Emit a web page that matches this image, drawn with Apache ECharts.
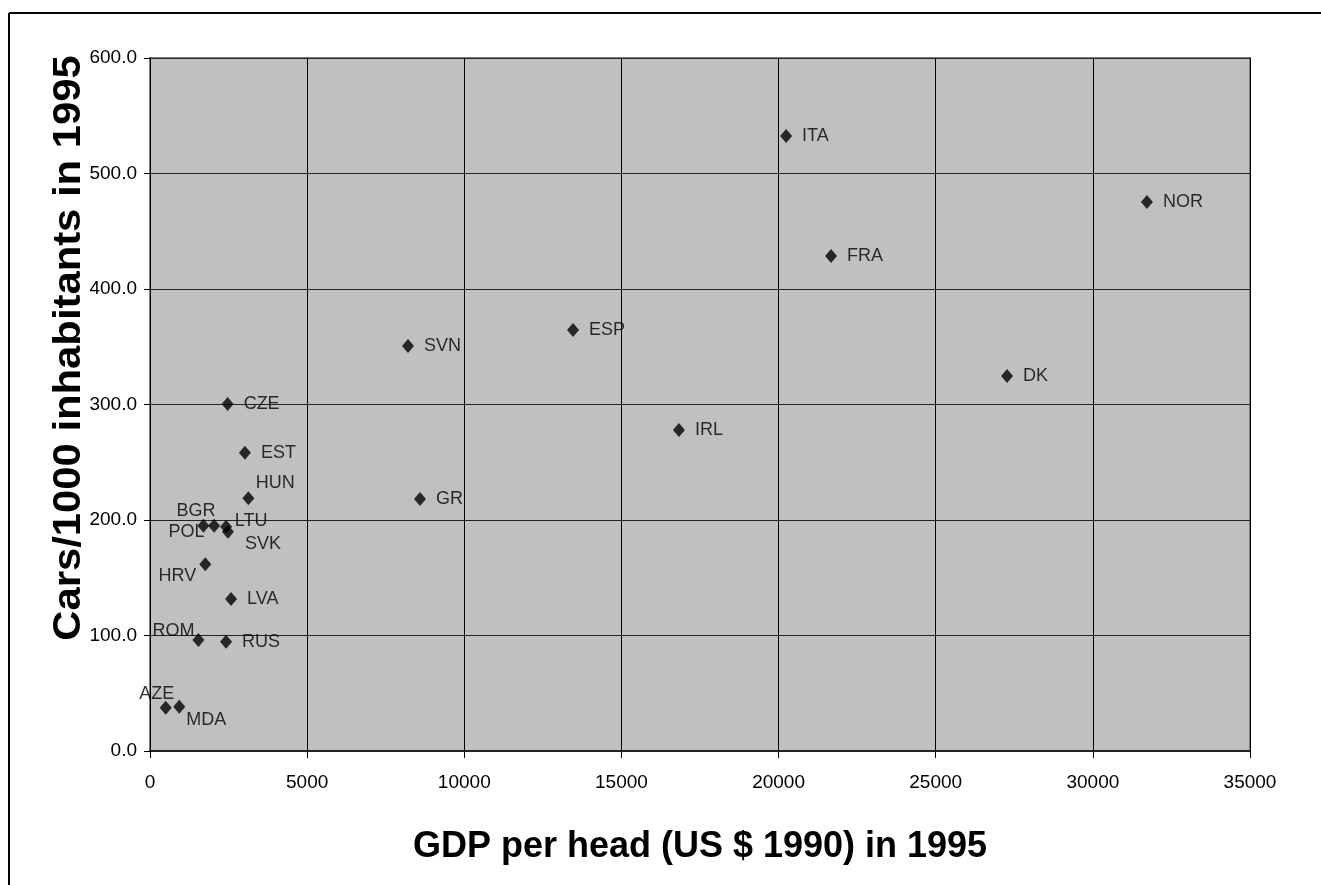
<!DOCTYPE html>
<html>
<head>
<meta charset="utf-8">
<script src="https://cdn.jsdelivr.net/npm/echarts@6/dist/echarts.min.js"></script>
<style>
html,body{margin:0;padding:0;background:#fff;}
#chart{width:1321px;height:885px;}
</style>
</head>
<body>
<div id="chart"></div>
<script>
// ---- data ----
var countries = ['ITA','NOR','FRA','ESP','SVN','DK','IRL','GR','CZE','EST','HUN','POL','BGR','LTU','SVK','HRV','LVA','ROM','RUS','AZE','MDA'];
var gdpPerHead = [20240,31720,21670,13460,8210,27270,16830,8590,2470,3020,3130,1700,2040,2420,2480,1760,2580,1540,2420,500,930];
var carsPer1000 = [532.5,475.3,428.6,364.5,350.6,324.7,277.9,218.2,300.4,258.3,218.8,195.1,195.1,194.2,189.9,161.6,131.6,96.1,94.6,37.5,38.4];
var xTicks = [0,5000,10000,15000,20000,25000,30000,35000];
var yTicks = [0,100,200,300,400,500,600];

// label placement (style only, not data)
var labelOffsets = {
  HUN:[27,-15], POL:[-17,6], BGR:[-18,-15], LTU:[25,-6], SVK:[35,12],
  HRV:[-28,12], ROM:[-25,-9], AZE:[-9,-14], MDA:[27,13]
};

var seriesData = countries.map(function(c,i){
  var d = {name:c, value:[gdpPerHead[i], carsPer1000[i]]};
  if (labelOffsets[c]) d.label = {position:'inside', offset:labelOffsets[c]};
  return d;
});

var chart = echarts.init(document.getElementById('chart'));
var font = 'Liberation Sans, Arial, sans-serif';
chart.setOption({
  animation:false,
  backgroundColor:'#fff',
  grid:{left:150, top:58, right:71, bottom:134, show:true, backgroundColor:'#c0c0c0', borderColor:'#808080', borderWidth:2},
  xAxis:{
    type:'value', min:xTicks[0], max:xTicks[xTicks.length-1], interval:5000,
    name:'GDP per head (US $ 1990) in 1995', nameLocation:'middle', nameGap:78,
    nameTextStyle:{fontFamily:font, fontSize:36, fontWeight:'bold', color:'#000'},
    axisLine:{show:true, onZero:false, lineStyle:{color:'#222', width:2}},
    axisTick:{show:true, inside:false, length:7, lineStyle:{color:'#000'}},
    axisLabel:{fontFamily:font, fontSize:19, color:'#000', margin:22, formatter:function(v){return String(v);}},
    splitLine:{show:true, lineStyle:{color:'#000', width:1}}
  },
  yAxis:{
    type:'value', min:yTicks[0], max:yTicks[yTicks.length-1], interval:100,
    axisLine:{show:true, onZero:false, lineStyle:{color:'#000', width:1}},
    axisTick:{show:true, inside:false, length:6, lineStyle:{color:'#000'}},
    axisLabel:{fontFamily:font, fontSize:19, color:'#000', margin:13, formatter:function(v){return v.toFixed(1);}},
    splitLine:{show:true, lineStyle:{color:'#222', width:1}}
  },
  graphic:[
    {type:'line', shape:{x1:9, y1:13, x2:1321, y2:13}, style:{stroke:'#000', lineWidth:2}},
    {type:'line', shape:{x1:9, y1:13, x2:9, y2:885}, style:{stroke:'#000', lineWidth:2}},
    {type:'text', x:70, y:348, rotation:Math.PI/2, scaleX:1.1,
     style:{text:'Cars/1000 inhabitants in 1995', font:'bold 38px ' + font, fill:'#000', textAlign:'center', textVerticalAlign:'middle'}}
  ],
  series:[{
    type:'scatter',
    symbol:'diamond',
    symbolSize:[12,14],
    itemStyle:{color:'#000'},
    label:{show:true, position:'right', distance:10, formatter:'{b}', fontFamily:font, fontSize:18, color:'#000'},
    data:seriesData
  }]
});
</script>
</body>
</html>
